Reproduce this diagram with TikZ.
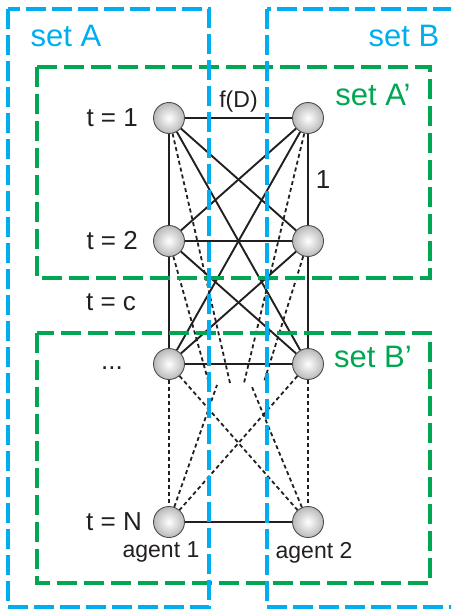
\documentclass[tikz,border=0pt]{standalone}
\usepackage{fontspec}
\setmainfont{Liberation Sans}
\usetikzlibrary{positioning, backgrounds}
\definecolor{SetBlue}{RGB}{0,174,239}
\definecolor{SetGreen}{RGB}{0,166,81}
\definecolor{InkGray}{RGB}{35,31,32}

\begin{document}
\begin{tikzpicture}[x=1pt, y=-1pt, every node/.style={inner sep=0pt, text=InkGray, font=\fontsize{26}{30}\selectfont}, agent/.style={circle, minimum size=31pt, draw=black!70, line width=0.9pt, shading=radial, inner color=white, outer color=gray!55}, link/.style={line width=1.9pt, draw=InkGray}, dotlink/.style={line width=1.8pt, draw=InkGray, dash pattern=on 4pt off 3pt}, bluebox/.style={line width=4pt, draw=SetBlue, dash pattern=on 20pt off 6pt}, greenbox/.style={line width=4pt, draw=SetGreen, dash pattern=on 20pt off 7pt}, setlabel/.style={font=\fontsize{31}{35}\selectfont}, small/.style={font=\fontsize{23}{27}\selectfont}]
\useasboundingbox (0,0) rectangle (451,612);
\clip (0,0) rectangle (451,612);

% agents over time
\node (a1) [agent] at (169,118) {};
\node (b1) [agent] at (308,118) {};
\node (a2) [agent] at (169,241) {};
\node (b2) [agent] at (308,241) {};
\node (a3) [agent] at (169,364) {};
\node (b3) [agent] at (308,364) {};
\node (aN) [agent] at (169,522) {};
\node (bN) [agent] at (308,522) {};

% loose ends of the dotted links
\coordinate (ea1) at (230,383);
\coordinate (eb1) at (244,383);
\coordinate (ea2) at (208,380);
\coordinate (eb2) at (264,382);
\coordinate (eaN) at (217,385);
\coordinate (ebN) at (252,387);

\begin{scope}[on background layer]
\draw [link] (a1) -- node[above=5pt, small] (fd) {f(D)} (b1);
\draw [link] (a2) -- (b2);
\draw [link] (a3) -- (b3);
\draw [link] (aN) -- (bN);
\draw [link] (a1) -- (a2);
\draw [link] (a2) -- (a3);
\draw [link] (b1) -- node[right=7pt] (one) {1} (b2);
\draw [link] (b2) -- (b3);
\draw [link] (a1) -- (b2);
\draw [link] (b1) -- (a2);
\draw [link] (a1) -- (b3);
\draw [link] (b1) -- (a3);
\draw [link] (a2) -- (b3);
\draw [link] (b2) -- (a3);
\draw [dotlink] (a3) -- (aN);
\draw [dotlink] (b3) -- (bN);
\draw [dotlink] (a3) -- (bN);
\draw [dotlink] (b3) -- (aN);
\draw [dotlink] (a1) -- (ea1);
\draw [dotlink] (b1) -- (eb1);
\draw [dotlink] (a2) -- (ea2);
\draw [dotlink] (b2) -- (eb2);
\draw [dotlink] (aN) -- (eaN);
\draw [dotlink] (bN) -- (ebN);
\end{scope}

% sets
\draw [greenbox] (37,67) rectangle (430,278);
\draw [greenbox] (37,333) rectangle (430,583);
\draw [bluebox] (8,9) rectangle (209,607);
\draw [bluebox] (267,9) rectangle (490,607);

\node (setA) [setlabel, text=SetBlue] at (66,36) {set A};
\node (setB) [setlabel, text=SetBlue] at (404,36) {set B};
\node (setA2) [setlabel, text=SetGreen] at (373,95) {set A’};
\node (setB2) [setlabel, text=SetGreen] at (373,357) {set B’};

% time steps
\node (t1) [left=15pt of a1] {t = 1};
\node (t2) [left=15pt of a2] {t = 2};
\node (tc) at (111,302) {t = c};
\node (tdots) [left=30pt of a3, yshift=-4pt] {...};
\node (tN) [left=11pt of aN] {t = N};
\node (ag1) [below=4pt of aN, xshift=-8pt, small] {agent 1};
\node (ag2) [below=4pt of bN, xshift=6pt, small] {agent 2};
\end{tikzpicture}
\end{document}
